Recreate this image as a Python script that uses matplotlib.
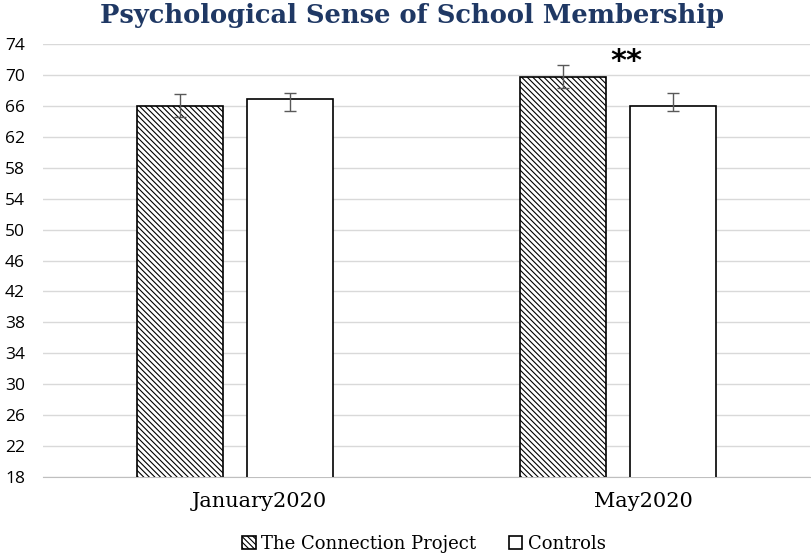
import numpy as np
import matplotlib.pyplot as plt
import matplotlib as mpl

categories = ['January2020', 'May2020']
series = ['The Connection Project', 'Controls']
tcp_means = [65.98, 69.77]
tcp_err_low = [1.42, 1.5]
tcp_err_high = [1.55, 1.51]
ctrl_means = [66.89, 66.02]
ctrl_err_low = [1.55, 0.65]
ctrl_err_high = [0.74, 1.6]
yticks = list(range(18, 75, 4))

mpl.rcParams['hatch.linewidth'] = 0.8

fig = plt.figure(figsize=(8.12, 5.58), dpi=100)
ax = fig.add_axes([43 / 812, 1 - 477 / 558, 767 / 812, 433 / 558])

x = np.arange(len(categories))
w = 0.224
off = 0.143
ax.bar(x - off, tcp_means, w, color='white', edgecolor='black',
       linewidth=1.2, hatch='\\\\\\\\\\\\', zorder=3, label=series[0])
ax.bar(x + off, ctrl_means, w, color='white', edgecolor='black',
       linewidth=1.2, zorder=3, label=series[1])
ax.errorbar(x - off, tcp_means, yerr=[tcp_err_low, tcp_err_high], fmt='none',
            ecolor='#595959', elinewidth=1, capsize=4, capthick=1, zorder=4)
ax.errorbar(x + off, ctrl_means, yerr=[ctrl_err_low, ctrl_err_high], fmt='none',
            ecolor='#595959', elinewidth=1, capsize=4, capthick=1, zorder=4)

ax.text(1.02, 71.8, '**', ha='center', va='center', fontsize=22,
        fontweight='bold', family='DejaVu Sans')

ax.set_ylim(18, 74)
ax.set_xlim(-0.5, 1.5)
ax.set_yticks(yticks)
# labels sit a little right of the group centres in the original
ax.set_xticks(x + 0.065)
ax.set_xticklabels(categories, family='DejaVu Serif', fontsize=15)
for lab in ax.get_yticklabels():
    lab.set_family('Open Sans')
    lab.set_fontsize(12.5)
ax.yaxis.grid(True, color='#d9d9d9', linewidth=1)
ax.set_axisbelow(True)
for s in ['top', 'right', 'left']:
    ax.spines[s].set_visible(False)
ax.spines['bottom'].set_color('#bfbfbf')
ax.tick_params(axis='y', length=0, pad=13)
ax.tick_params(axis='x', length=0, pad=11)

fig.text(0.507, 0.972, 'Psychological Sense of School Membership', ha='center', va='center',
         fontsize=18.5, fontweight='bold', color='#1f3864', family='DejaVu Serif')

fig.legend(loc='lower center', bbox_to_anchor=(0.522, -0.02), ncol=2, frameon=False,
           prop={'family': 'DejaVu Serif', 'size': 13}, handlelength=0.75,
           handleheight=0.75, handletextpad=0.3, columnspacing=1.8)

fig.savefig('out.png', dpi=100)
